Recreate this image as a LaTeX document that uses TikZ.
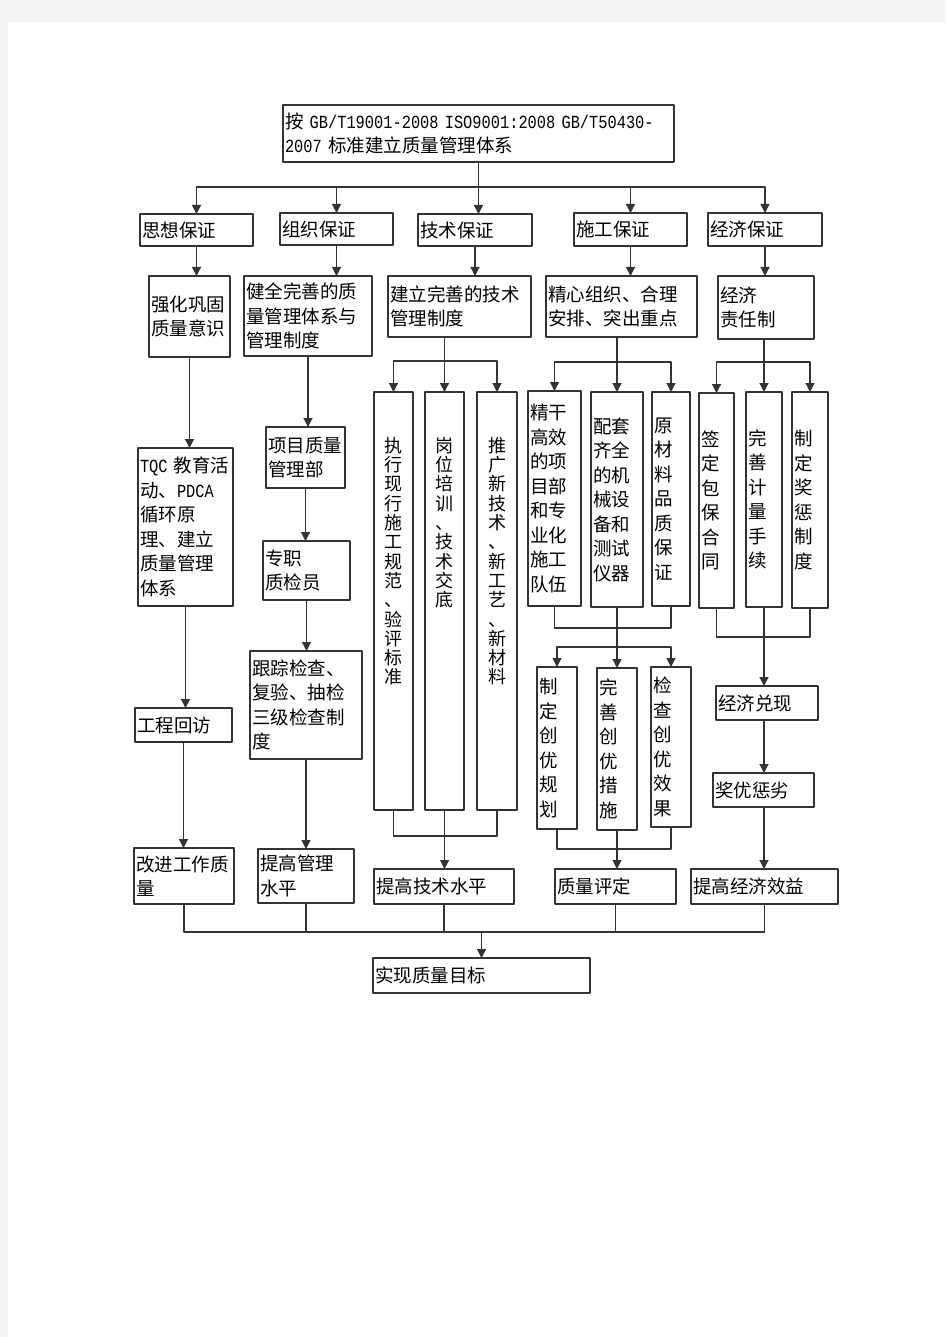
\documentclass[tikz,border=0pt]{standalone}
\usepackage{fontspec}
\setmainfont{Noto Sans CJK SC}
\newfontfamily\lat{Liberation Mono}[FakeStretch=0.83]
\usetikzlibrary{arrows.meta,positioning}
\definecolor{pagegray}{HTML}{F3F3F3}
\definecolor{linegray}{HTML}{333333}
\tikzset{
  qbox/.style 2 args={draw=linegray, line width=1.2pt, inner xsep=2pt, inner ysep=0pt, outer sep=0pt,
    anchor=north west, align=left, minimum width=#1pt, minimum height=#2pt, text width=#1pt-4pt,
    font=\fontsize{18.5}{24.5}\selectfont},
  vcol/.style={inner sep=0pt, align=center, font=\fontsize{18}{19.3}\selectfont},
  wire/.style={draw=linegray, line width=1.2pt},
  arr/.style={wire, -{Triangle[length=9pt,width=9pt]}},
}
\begin{document}
\begin{tikzpicture}[x=1pt,y=-1pt, line join=round]
	\useasboundingbox (0,0) rectangle (945,1337);
	\fill[pagegray] (0,0) rectangle (945,1337);
	\fill[white] (8,22) rectangle (945,1337);
	% top
	\node[qbox={391}{57}] (top) at (283,105) {按{\lat~GB/T19001-2008~ISO9001:2008~GB/T50430-}\\{\lat 2007~}标准建立质量管理体系};
	% second row
	\node[qbox={113}{32}] (sx) at (140,214) {思想保证};
	\node[qbox={113}{32}] (zz) at (280,213) {组织保证};
	\node[qbox={114}{32}] (js) at (418,214) {技术保证};
	\node[qbox={113}{33}] (sg) at (574,213) {施工保证};
	\node[qbox={114}{33}] (jj) at (708,213) {经济保证};
	% third row
	\node[qbox={81}{81}] (qh) at (149,276) {强化巩固\\质量意识};
	\node[qbox={128}{80}] (jq) at (244,276) {健全完善的质\\量管理体系与\\管理制度};
	\node[qbox={143}{61}] (jl) at (388,276) {建立完善的技术\\管理制度};
	\node[qbox={151}{61}] (jx) at (546,276) {精心组织、合理\\安排、突出重点};
	\node[qbox={96}{63}] (jz) at (718,276) {经济\\责任制};
	% thought
	\node[qbox={95}{158}] (tqc) at (138,448) {{\lat TQC~}教育活\\动、{\lat PDCA}\\循环原\\理、建立\\质量管理\\体系};
	\node[qbox={97}{34}] (gc) at (135,708) {工程回访};
	\node[qbox={100}{56}] (gj) at (134,848) {改进工作质\\量};
	% organisation
	\node[qbox={79}{61}] (xm) at (266,427) {项目质量\\管理部};
	\node[qbox={87}{59}] (zj) at (263,541) {专职\\质检员};
	\node[qbox={112}{108}] (gz) at (250,651) {跟踪检查、\\复验、抽检\\三级检查制\\度};
	\node[qbox={96}{54}] (tg) at (258,849) {提高管理\\水平};
	% technique
	\node[qbox={39}{418}] (zx) at (374,392) {};
	\node[qbox={39}{418}, line width=2pt] (gw) at (425,392) {};
	\node[qbox={40}{418}] (tgx) at (477,392) {};
	\node[vcol, below=45pt of zx.north] (zxt) {执\\行\\现\\行\\施\\工\\规\\范\\、\\验\\评\\标\\准};
	\node[vcol, below=45pt of gw.north] (gwt) {岗\\位\\培\\训\\、\\技\\术\\交\\底};
	\node[vcol, below=45pt of tgx.north] (tgxt) {推\\广\\新\\技\\术\\、\\新\\工\\艺\\、\\新\\材\\料};
	\node[qbox={140}{35}] (jssp) at (374,869) {提高技术水平};
	% construction
	\node[qbox={53}{215}] (jgd) at (528,391) {精干\\高效\\的项\\目部\\和专\\业化\\施工\\队伍};
	\node[qbox={52}{215}] (ptq) at (591,392) {配套\\齐全\\的机\\械设\\备和\\测试\\仪器};
	\node[qbox={38}{214}] (ycl) at (652,392) {原\\材\\料\\品\\质\\保\\证};
	\node[qbox={40}{162}] (zdcy) at (537,667) {制\\定\\创\\优\\规\\划};
	\node[qbox={40}{162}] (wscy) at (597,668) {完\\善\\创\\优\\措\\施};
	\node[qbox={40}{160}] (jccy) at (651,667) {检\\查\\创\\优\\效\\果};
	\node[qbox={121}{35}] (zlpd) at (555,869) {质量评定};
	% economy
	\node[qbox={35}{215}] (qdb) at (699,393) {签\\定\\包\\保\\合\\同};
	\node[qbox={36}{215}] (wsjl) at (746,392) {完\\善\\计\\量\\手\\续};
	\node[qbox={36}{216}] (zdjc) at (792,392) {制\\定\\奖\\惩\\制\\度};
	\node[qbox={102}{34}] (jjdx) at (716,686) {经济兑现};
	\node[qbox={101}{34}] (jydl) at (713,773) {奖优惩劣};
	\node[qbox={147}{35}] (tgjj) at (691,869) {提高经济效益};
	% goal
	\node[qbox={217}{35}] (sxzl) at (373,958) {实现质量目标};
	% bus coordinates
	\coordinate (b1) at (478.5,187);
	\coordinate (b3) at (444.5,361);
	\coordinate (k3) at (444.5,836);
	\coordinate (b4) at (617,362);
	\coordinate (k4) at (617,628);
	\coordinate (b4b) at (617,647);
	\coordinate (k4b) at (617,849);
	\coordinate (b5) at (764,362);
	\coordinate (k5) at (764,637);
	\coordinate (b6) at (481.5,932);
	% top to second row
	\draw[wire] (top.south) -- (b1);
	\foreach \n in {sx,zz,sg,jj} \draw[arr] (b1) -| (\n.north);
	\draw[arr] (b1) -- (b1 |- js.north);
	\draw[arr] (sx.south) -- (sx.south |- qh.north);
	\draw[arr] (zz.south) -- (zz.south |- jq.north);
	\draw[arr] (js.south) -- (js.south |- jl.north);
	\draw[arr] (sg.south) -- (sg.south |- jx.north);
	\draw[arr] (jj.south) -- (jj.south |- jz.north);
	% thought column
	\draw[arr] (qh.south) -- (qh.south |- tqc.north);
	\draw[arr] (tqc.south) -- (tqc.south |- gc.north);
	\draw[arr] (gc.south) -- (gc.south |- gj.north);
	% organisation column
	\draw[arr] (jq.south) -- (jq.south |- xm.north);
	\draw[arr] (xm.south) -- (xm.south |- zj.north);
	\draw[arr] (zj.south) -- (zj.south |- gz.north);
	\draw[arr] (gz.south) -- (gz.south |- tg.north);
	% technique column
	\draw[arr] (gw.north |- jl.south) -- (gw.north);
	\draw[arr] (b3) -| (zx.north);
	\draw[arr] (b3) -| (tgx.north);
	\draw[wire] (zx.south) |- (k3) -| (tgx.south);
	\draw[arr] (gw.south) -- (gw.south |- jssp.north);
	% construction column
	\draw[arr] (ptq.north |- jx.south) -- (ptq.north);
	\draw[arr] (b4) -| (jgd.north);
	\draw[arr] (b4) -| (ycl.north);
	\draw[wire] (jgd.south) |- (k4) -| (ycl.south);
	\draw[arr] (ptq.south) -- (ptq.south |- wscy.north);
	\draw[arr] (b4b) -| (zdcy.north);
	\draw[arr] (b4b) -| (jccy.north);
	\draw[wire] (zdcy.south) |- (k4b) -| (jccy.south);
	\draw[arr] (wscy.south) -- (wscy.south |- zlpd.north);
	% economy column
	\draw[arr] (wsjl.north |- jz.south) -- (wsjl.north);
	\draw[arr] (b5) -| (qdb.north);
	\draw[arr] (b5) -| (zdjc.north);
	\draw[wire] (qdb.south) |- (k5) -| (zdjc.south);
	\draw[arr] (wsjl.south) -- (wsjl.south |- jjdx.north);
	\draw[arr] (jjdx.south -| wsjl.south) -- (wsjl.south |- jydl.north);
	\draw[arr] (jydl.south -| wsjl.south) -- (wsjl.south |- tgjj.north);
	% to goal
	\draw[wire] (gj.south) |- (b6) -| (tgjj.south);
	\foreach \n in {tg,jssp,zlpd} \draw[wire] (\n.south) -- (\n.south |- b6);
	\draw[arr] (b6) -- (sxzl.north);
\end{tikzpicture}
\end{document}
